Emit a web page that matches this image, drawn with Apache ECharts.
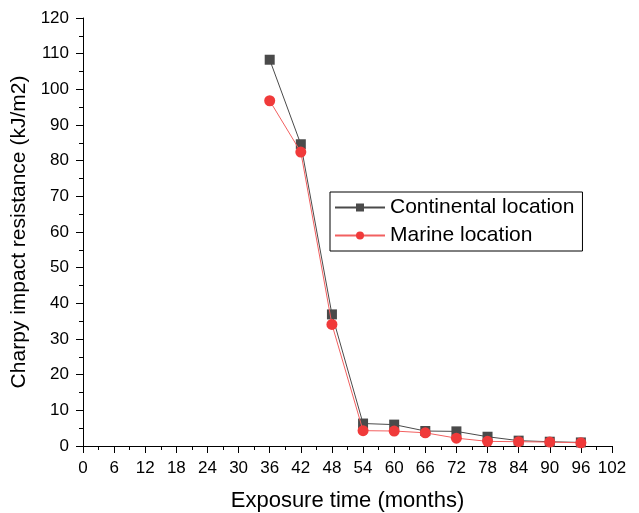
<!DOCTYPE html>
<html>
<head>
<meta charset="utf-8">
<script src="https://cdn.jsdelivr.net/npm/echarts@6/dist/echarts.min.js"></script>
<style>
  html, body { margin: 0; padding: 0; background: #fff; }
  #chart { width: 639px; height: 513px; }
</style>
</head>
<body>
<div id="chart"></div>
<script>
// exposure time (months)
var months = [36, 42, 48, 54, 60, 66, 72, 78, 84, 90, 96];
// charpy impact resistance (kJ/m2)
var continental = [108.3, 84.6, 36.9, 6.3, 6.0, 4.2, 4.1, 2.6, 1.5, 1.2, 1.0];
var marine = [96.8, 82.4, 34.1, 4.3, 4.2, 3.7, 2.2, 1.3, 1.2, 1.1, 0.9];

var FONT = "Liberation Sans, Arial, sans-serif";

var pairs = function(xs, ys){
	var out = [];
	for (var i = 0; i < xs.length; i++){
		out.push([xs[i], ys[i]]);
	}
	return out;
};

var axisCommon = {
	axisLine: { show: true, onZero: false, lineStyle: { color: "#000", width: 1 } },
	axisTick: { show: true, inside: false, length: 7, lineStyle: { color: "#000", width: 1 } },
	minorTick: { show: true, splitNumber: 2, length: 4, lineStyle: { color: "#000", width: 1 } },
	splitLine: { show: false },
	axisLabel: { color: "#000", fontFamily: FONT, fontSize: 17 }
};

var chart = echarts.init(document.getElementById("chart"));
var option = {
	animation: false,
	grid: { left: 83, right: 27, top: 18, bottom: 67, containLabel: false, outerBoundsMode: "none" },
	legend: {
		orient: "vertical",
		left: 330,
		top: 192,
		borderColor: "#000",
		borderWidth: 1,
		borderRadius: 0,
		padding: [5, 8, 5, 4],
		itemGap: 7,
		itemWidth: 50,
		itemHeight: 10,
		textStyle: { color: "#000", fontFamily: FONT, fontSize: 21 },
		data: ["Continental location", "Marine location"]
	},
	xAxis: echarts.util.merge({
		type: "value",
		min: 0,
		max: 102,
		interval: 6,
		name: "Exposure time (months)",
		nameLocation: "middle",
		nameGap: 44,
		nameTextStyle: { color: "#000", fontFamily: FONT, fontSize: 22 },
		axisLabel: { margin: 14 }
	}, axisCommon, false),
	yAxis: echarts.util.merge({
		type: "value",
		min: 0,
		max: 120,
		interval: 10,
		name: "Charpy impact resistance (kJ/m2)",
		nameLocation: "middle",
		nameGap: 47,
		nameTextStyle: { color: "#000", fontFamily: FONT, fontSize: 21 },
		axisLabel: { margin: 14 }
	}, axisCommon, false),
	series: [
		{
			name: "Continental location",
			type: "line",
			data: pairs(months, continental),
			symbol: "rect",
			symbolSize: 10,
			itemStyle: { color: "#4a4a4a" },
			lineStyle: { color: "#4a4a4a", width: 1 },
			z: 2
		},
		{
			name: "Marine location",
			type: "line",
			data: pairs(months, marine),
			symbol: "circle",
			symbolSize: 11,
			itemStyle: { color: "#f03a3a" },
			lineStyle: { color: "#f26060", width: 1 },
			z: 3
		}
	]
};
chart.setOption(option);
</script>
</body>
</html>
